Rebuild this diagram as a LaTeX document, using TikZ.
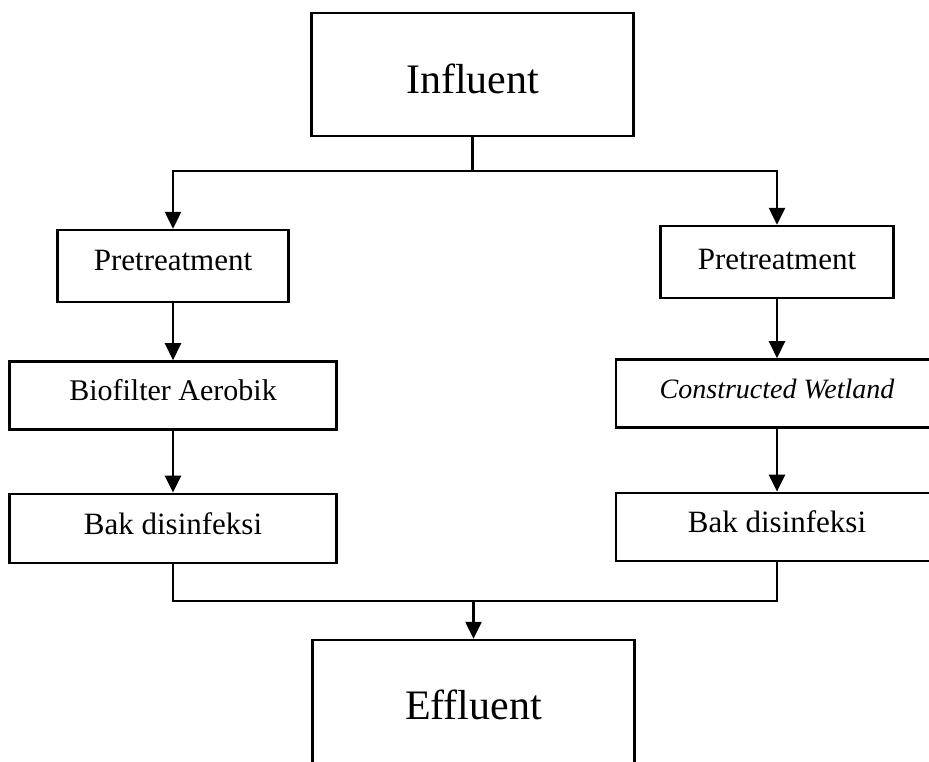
\documentclass[tikz,border=0pt]{standalone}
\usepackage{fontspec}
\setmainfont{Liberation Serif}
\usetikzlibrary{arrows.meta,positioning}

\begin{document}
\begin{tikzpicture}[x=1pt,y=-1pt,line width=2.4pt,>={Triangle[width=16pt,length=17pt]},
  b/.style={draw,inner sep=0pt,align=center,text height=20pt,text depth=#1,font=\fontsize{31}{36}\selectfont},
  b/.default=10pt,
  big/.style={draw,inner sep=0pt,align=center,minimum width=322pt,minimum height=123pt,
    text height=#1,text depth=0pt,font=\fontsize{42}{48}\selectfont}]
  \clip (0,0) rectangle (929,761);
  \node[big=37.8pt] (inf) at (472.5,74.5) {Influent};
  % left column
  \node[b=10.5pt,minimum width=231pt,minimum height=72pt] (pre1) at (173,266) {Pretreatment};
  \node[b=9pt,minimum width=327pt,minimum height=68pt,font=\fontsize{30}{36}\selectfont,below=57pt of pre1] (bio) {Biofilter Aerobik};
  \node[b=8pt,minimum width=327pt,minimum height=69pt,below=62pt of bio] (bak1) {Bak disinfeksi};
  % right column
  \node[b=4.5pt,minimum width=233pt,minimum height=72pt] (pre2) at (777,262) {Pretreatment};
  \node[b=9.5pt,minimum width=322pt,minimum height=68pt,font=\fontsize{28}{34}\selectfont\itshape,below=59pt of pre2] (cw) {Constructed Wetland};
  \node[b=8pt,minimum width=322pt,minimum height=68pt,below=63pt of cw] (bak2) {Bak disinfeksi};
  \node[big=35.8pt] (eff) at (473.5,701.5) {Effluent};
  \coordinate (split) at (472.5,171);
  \coordinate (join) at (473.5,601);
  \draw (inf.south) -- (split);
  \draw[->] (split) -| (pre1.north);
  \draw[->] (split) -| (pre2.north);
  \draw[->] (pre1) -- (bio);
  \draw[->] (bio) -- (bak1);
  \draw[->] (pre2) -- (cw);
  \draw[->] (cw) -- (bak2);
  \draw (bak1.south) |- (join) -| (bak2.south);
  \draw[->] (join) -- (eff.north);
\end{tikzpicture}
\end{document}
